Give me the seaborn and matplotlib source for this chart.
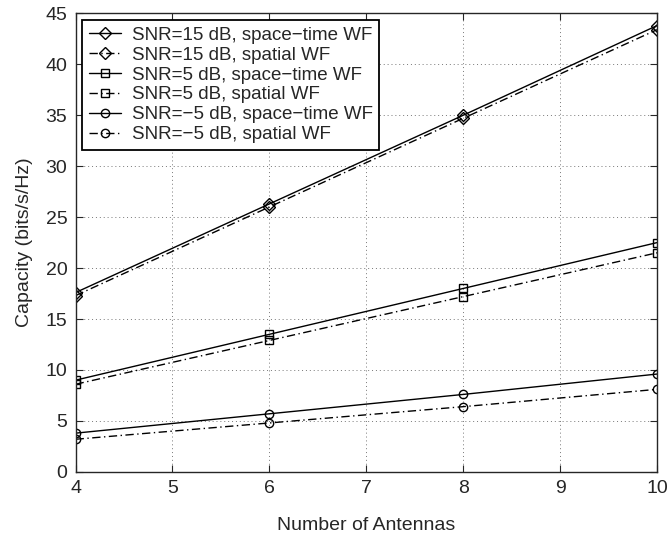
import matplotlib
matplotlib.use("Agg")
import matplotlib.pyplot as plt
import seaborn as sns
import pandas as pd

antennas = [4, 6, 8, 10]
snr15_st = [17.6, 26.3, 35.0, 43.8]
snr15_sp = [17.3, 26.0, 34.7, 43.4]
snr5_st = [9.0, 13.5, 18.0, 22.5]
snr5_sp = [8.6, 12.9, 17.2, 21.5]
snrm5_st = [3.8, 5.7, 7.6, 9.6]
snrm5_sp = [3.2, 4.8, 6.4, 8.1]

labels = ["SNR=15 dB, space\u2212time WF", "SNR=15 dB, spatial WF",
          "SNR=5 dB, space\u2212time WF", "SNR=5 dB, spatial WF",
          "SNR=\u22125 dB, space\u2212time WF", "SNR=\u22125 dB, spatial WF"]
series = [snr15_st, snr15_sp, snr5_st, snr5_sp, snrm5_st, snrm5_sp]
markers = ["D", "D", "s", "s", "o", "o"]
msizes = [6.5, 6.5, 5.5, 5.5, 6, 6]
styles = ["-", (0, (6, 2.5, 1, 2.5)), "-", (0, (6, 2.5, 1, 2.5)), "-", (0, (6, 2.5, 1, 2.5))]

sns.set_style("ticks")
plt.rcParams['font.family'] = ['Liberation Sans', 'DejaVu Sans']

fig = plt.figure(figsize=(6.69, 5.35), dpi=100)
ax = fig.add_axes([0.113, 0.118, 0.869, 0.857])

for lab, vals, mk, ms, ls in zip(labels, series, markers, msizes, styles):
    df = pd.DataFrame({"Antennas": antennas, "Capacity": vals})
    sns.lineplot(data=df, x="Antennas", y="Capacity", ax=ax, color="black",
                 linestyle=ls, linewidth=1.0, marker=mk, markersize=ms,
                 markerfacecolor="none", markeredgecolor="black",
                 markeredgewidth=1.0, label=lab)

ax.set_xlim(4, 10)
ax.set_ylim(0, 45)
ax.set_xticks(range(4, 11))
ax.set_yticks(range(0, 46, 5))
ax.grid(True, linestyle=(0, (1, 3)), color="#777777", linewidth=0.7)
ax.tick_params(direction="in", top=True, right=True, labelsize=14, length=5, pad=6)
for s in ax.spines.values():
    s.set_linewidth(1.0)
ax.set_xlabel("Number of Antennas", fontsize=14, labelpad=14)
ax.set_ylabel("Capacity (bits/s/Hz)", fontsize=14, labelpad=9)

leg = ax.legend(loc="upper left", fontsize=13.5, frameon=True, fancybox=False,
                edgecolor="black", framealpha=1, handlelength=1.7,
                borderaxespad=0.35, labelspacing=0.15, borderpad=0.35,
                handletextpad=0.6)
leg.get_frame().set_linewidth(1.3)

fig.savefig("out.png", dpi=100)
